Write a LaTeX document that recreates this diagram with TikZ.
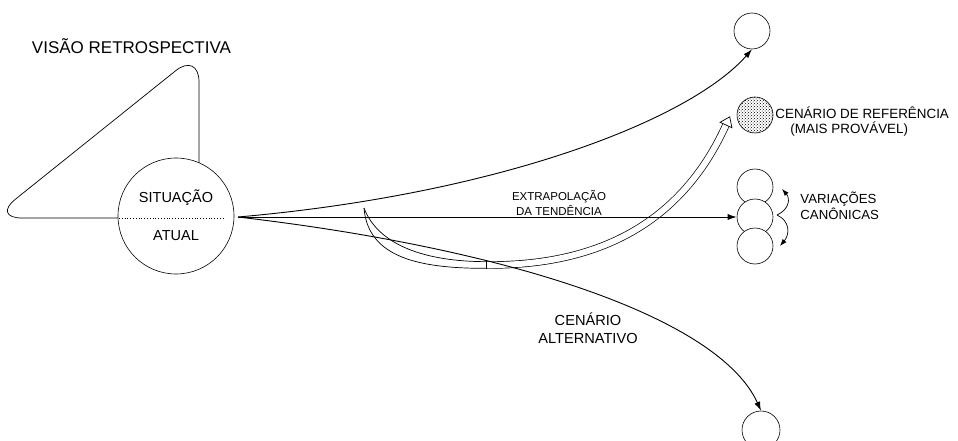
\documentclass[tikz,border=0pt]{standalone}
\usepackage{fontspec}
\setmainfont{Liberation Sans}
\usepackage{tikz}
\usetikzlibrary{arrows.meta,patterns}

\begin{document}
\begin{tikzpicture}[x=1pt, y=-1pt, line width=0.9pt,
	every node/.style={inner sep=0pt},
	bola/.style={circle, draw, fill=white, line width=0.6pt, minimum size=#1},
	seta/.style={-{Latex[length=9pt,width=6pt]}},
	setinha/.style={line width=0.7pt, -{Latex[length=7pt,width=5pt]}},
	fio/.style={line width=0.7pt},
	faixa/.style={line width=0.7pt, double, double distance=6pt},
	tam/.style={font=\fontsize{#1}{#1}\selectfont}]
	\useasboundingbox (0,0) rectangle (958,441);
	
	% visao retrospectiva
	\node[tam=17, anchor=base] at (131.5,53.3) {VISÃO RETROSPECTIVA};
	\draw[fio, rounded corners=30pt] (-8,218) -- (199,52) -- (199,218) -- cycle;
	\node[bola=116pt] (sit) at (176,216) {};
	\draw[dotted, line width=0.8pt] (119,218) -- (224,218);
	\node[tam=14.5, anchor=base] at (176,202) {SITUAÇÃO};
	\node[tam=14.5, anchor=base] at (176,240) {ATUAL};
	
	% cenarios
	\node[bola=36pt] (topo) at (752,31) {};
	\node[bola=36pt, pattern=crosshatch dots] (ref) at (755,115) {};
	\node[bola=36pt] (v1) at (755,187) {};
	\node[bola=36pt] (v2) at (755,217) {};
	\node[bola=36pt] (v3) at (755,246) {};
	\node[bola=38pt] (alt) at (761,430) {};
	
	% seta dupla
	\coordinate (bs) at (364,208);
	\coordinate (bm) at (486,265);
	\coordinate (bb) at (726,125);
	\coordinate (bt) at (729.7,116.8);
	\draw[fio] (bs) .. controls (368,258) and (420,268.4) .. (486,268.35);
	\draw[fio] (bs) .. controls (378,245) and (425,261.6) .. (486,261.65);
	\draw[faixa] (bm) .. controls (600,266) and (682,222) .. (bb);
	\draw[fio] (486,261.3) -- (486,268.7);
	\draw[fio, fill=white] (720.1,122.3) -- (bt) -- (731.9,127.7) -- cycle;
	
	\coordinate (o) at (238,217);
	\draw[seta] (o) .. controls (500,194) and (690,120) .. (topo.south);
	\draw[seta] (o) -- (v2.west);
	\draw[seta] (o) .. controls (520,250) and (720,320) .. (alt.north);
	
	% variacoes
	\coordinate (vc) at (777,215);
	\draw[setinha] (vc) .. controls (790,209) and (790,198) .. (782,189);
	\draw[setinha] (vc) .. controls (790,221) and (790,234) .. (780,246);
	
	\node[tam=11.5, anchor=base] at (559,200) {EXTRAPOLAÇÃO};
	\node[tam=11.5, anchor=base] at (559,215) {DA TENDÊNCIA};
	\node[tam=13.4, anchor=base west] at (775,119) {CENÁRIO DE REFERÊNCIA};
	\node[tam=13.4, anchor=base west] at (790,133.5) {(MAIS PROVÁVEL)};
	\node[tam=13.2, anchor=base west] at (800,203) {VARIAÇÕES};
	\node[tam=13.2, anchor=base west] at (800,219) {CANÔNICAS};
	\node[tam=14.6, anchor=base] at (588,325) {CENÁRIO};
	\node[tam=14.6, anchor=base] at (588,343) {ALTERNATIVO};
\end{tikzpicture}
\end{document}
